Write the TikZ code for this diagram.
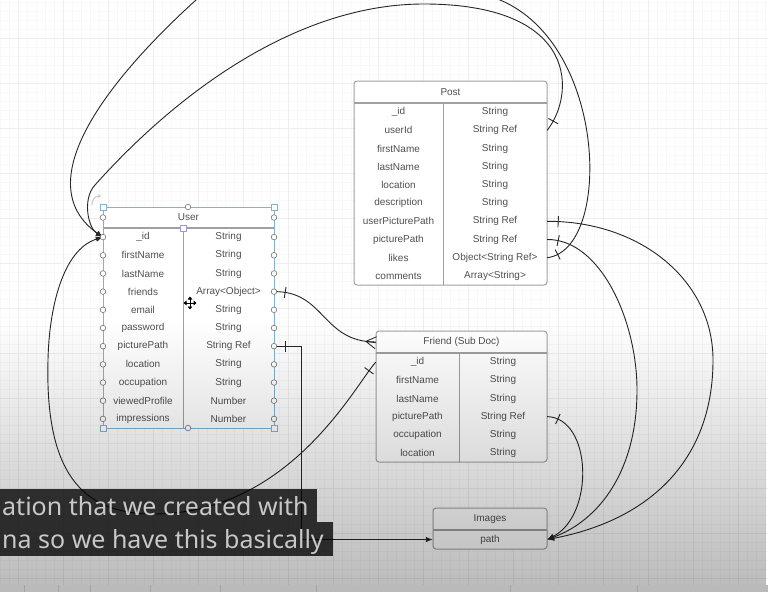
\documentclass[tikz,border=0pt]{standalone}
\usepackage{fontspec}
\setmainfont{Liberation Sans}
\newfontfamily\capfont{Noto Sans}
\usetikzlibrary{arrows.meta,decorations.markings,fadings}

\definecolor{gridminor}{RGB}{248,248,248}
\definecolor{gridmajor}{RGB}{238,238,238}
\definecolor{tblline}{RGB}{160,160,160}
\definecolor{tbltext}{RGB}{80,80,80}
\definecolor{selblue}{RGB}{130,178,205}
\definecolor{handlegray}{RGB}{115,115,115}
\definecolor{anchorlilac}{RGB}{165,150,210}
\definecolor{captext}{RGB}{200,200,200}

\tikzfading[name=fadedown, top color=transparent!100, bottom color=transparent!0]

\tikzset{
  fieldtxt/.style={font=\fontsize{10}{12}\selectfont, text=tbltext, inner sep=0pt},
  rowbox/.style={inner sep=0pt, minimum height=18pt},
  tblbox/.style={draw=tblline, line width=1pt, fill=white, rounded corners=3pt},
  relline/.style={draw=black!85, line width=0.9pt},
  onebar/.style={postaction={decorate, decoration={markings,
      mark=at position 11pt with {\draw[-, black!85, line width=0.9pt] (0pt,-5.5pt) -- (0pt,5.5pt);}}}},
  crowfoot/.style={postaction={decorate, decoration={markings,
      mark=at position -10pt with {\draw[-, black!85, line width=0.8pt] (0pt,0pt) -- (10pt,6pt) (0pt,0pt) -- (10pt,0pt) (0pt,0pt) -- (10pt,-6pt);}}}},
  hdl/.style={draw=handlegray, fill=white, line width=0.6pt},
  captxt/.style={font=\capfont\fontsize{25}{30}\selectfont, text=captext, inner sep=0pt, anchor=base west}
}

\begin{document}
\begin{tikzpicture}[x=1pt, y=-1pt, >={Latex[length=7pt,width=5.5pt]}]
\useasboundingbox (0,0) rectangle (768,592);
\clip (0,0) rectangle (768,592);

% 背景网格
\fill[white] (0,0) rectangle (768,592);
\foreach \x in {0,9,...,765} \draw[gridminor, line width=0.5pt] (\x,0) -- (\x,592);
\foreach \y in {2,11,...,590} \draw[gridminor, line width=0.5pt] (0,\y) -- (768,\y);
\foreach \x in {18,63,...,738} \draw[gridmajor, line width=0.6pt] (\x,0) -- (\x,592);
\foreach \y in {38,83,...,578} \draw[gridmajor, line width=0.6pt] (0,\y) -- (768,\y);

% Post
\draw[tblbox] (354,81) rectangle (547,285);
\draw[tblline, line width=1.6pt] (354,103) -- (547,103);
\draw[tblline, line width=1pt] (443,103) -- (443,285);
\node[fieldtxt, rowbox, minimum width=193pt, minimum height=22pt] (post-head) at (450.5,92) {Post};
\foreach \f/\t [count=\i] in {\_id/String, userId/String Ref, firstName/String, lastName/String, location/String, description/String, userPicturePath/String Ref, picturePath/String Ref, likes/Object<String Ref>, comments/Array<String>} {
  \node[rowbox, minimum width=193pt] (post-\i) at (450.5, {103+18.2*\i-9.1}) {};
  \node[fieldtxt] (post-f\i) at (398.5, {103+18.2*\i-9.1}) {\f};
  \node[fieldtxt] (post-t\i) at (495, {103+18.2*\i-9.1}) {\t};
}

% Friend (Sub Doc)
\draw[tblbox] (376,331) rectangle (547,462);
\draw[tblline, line width=1.6pt] (376,353) -- (547,353);
\draw[tblline, line width=1pt] (459,353) -- (459,462);
\node[fieldtxt, rowbox, minimum width=171pt, minimum height=22pt] (friend-head) at (461.5,342) {Friend (Sub Doc)};
\foreach \f/\t [count=\i] in {\_id/String, firstName/String, lastName/String, picturePath/String Ref, occupation/String, location/String} {
  \node[rowbox, minimum width=171pt] (friend-\i) at (461.5, {353+18.17*\i-9.08}) {};
  \node[fieldtxt] (friend-f\i) at (417.5, {353+18.17*\i-9.08}) {\f};
  \node[fieldtxt] (friend-t\i) at (503, {353+18.17*\i-9.08}) {\t};
}

% Images
\draw[tblbox] (433,508) rectangle (547,549);
\draw[tblline, line width=1.6pt] (433,530) -- (547,530);
\node[fieldtxt, rowbox, minimum width=114pt, minimum height=22pt] (images-head) at (490,519) {Images};
\node[fieldtxt, rowbox, minimum width=114pt] (images-1) at (490,539.5) {path};

% User
\fill[white] (103,207) rectangle (274,428);
\draw[tblline, line width=1.4pt] (103,228) -- (274,228);
\draw[tblline, line width=1pt] (183,228) -- (183,428);
\draw[selblue, line width=1pt] (103,207) rectangle (274,428);
\node[fieldtxt, rowbox, minimum width=171pt, minimum height=21pt] (user-head) at (188.5,217.5) {User};
\foreach \f/\t [count=\i] in {\_id/String, firstName/String, lastName/String, friends/Array<Object>, email/String, password/String, picturePath/String Ref, location/String, occupation/String, viewedProfile/Number, impressions/Number} {
  \node[rowbox, minimum width=171pt] (user-\i) at (188.5, {228+18.18*\i-9.09}) {};
  \node[fieldtxt] (user-f\i) at (143, {228+18.18*\i-9.09}) {\f};
  \node[fieldtxt] (user-t\i) at (228.5, {228+18.18*\i-9.09}) {\t};
}

% 关系连线
\draw[relline, onebar, crowfoot] (user-4.east) .. controls (325,291) and (322,342) .. (friend-head.west);
\draw[relline, onebar, ->] (user-7.east) -- ++(27,0) |- (images-1.west);
\draw[relline, onebar, ->] (post-2.east) .. controls (575,95) and (580,5) .. (426,4)
  .. controls (300,3) and (180,90) .. (95,185) .. controls (82,199) and (88,228) .. (user-1.west);
\draw[relline, onebar, ->] (post-9.east) .. controls (612,250) and (608,45) .. (500,0)
  .. controls (420,-34) and (240,-40) .. (196,0) .. controls (143,48) and (15,175) .. (user-1.west);
\draw[relline, onebar, ->] (friend-1.west) .. controls (355,385) and (290,514) .. (153,514)
  .. controls (80,514) and (45,470) .. (48,360) .. controls (49,310) and (62,250) .. (user-1.west);
\draw[relline, onebar, ->] (post-7.east) .. controls (640,221) and (713,280) .. (713,360)
  .. controls (713,460) and (650,520) .. (images-1.east);
\draw[relline, onebar, ->] (post-8.east) .. controls (600,239) and (637,320) .. (637,390)
  .. controls (637,470) and (600,520) .. (images-1.east);
\draw[relline, onebar, ->] (friend-4.east) .. controls (592,418) and (595,515) .. (images-1.east);

% 选中手柄
\draw[hdl] (103,217.5) circle (2.8pt) (274,217.5) circle (2.8pt);
\foreach \i in {1,...,11}
  \draw[hdl] (103,{228+18.18*\i-9.09}) circle (2.8pt) (274,{228+18.18*\i-9.09}) circle (2.8pt);
\draw[hdl] (188,207) circle (2.8pt) (188,428) circle (2.8pt);
\foreach \x/\y in {103/207, 274/207, 103/428, 274/428}
  \draw[selblue, fill=white, line width=0.8pt] (\x-3,\y-3) rectangle ++(6,6);
\draw[anchorlilac, fill=white, line width=0.8pt] (180,225) rectangle ++(6,6);
\draw[black!22, line width=1pt, -{Stealth[length=3pt,width=4pt]}] (92,205) .. controls (92,199) and (95,196) .. (101,196);
\draw[line width=0.9pt, {Triangle[length=3pt,width=4.5pt]}-{Triangle[length=3pt,width=4.5pt]}] (183.5,303) -- (196.5,303);
\draw[line width=0.9pt, {Triangle[length=3pt,width=4.5pt]}-{Triangle[length=3pt,width=4.5pt]}] (190,296.5) -- (190,309.5);

% 视频遮罩
\fill[black, opacity=0.27, path fading=fadedown] (0,320) rectangle (768,592);
\fill[black!27] (0,585) rectangle (768,592);
\foreach \x in {24,58,90,150,220,316,510,637}
  \draw[black!36, line width=0.8pt] (\x,585) -- (\x,592);

% 字幕
\fill[black, fill opacity=0.78] (0,489) rectangle (317,522);
\fill[black, fill opacity=0.78] (0,522) rectangle (333,556);
\node[captxt] (cap-1) at (2,515) {ation that we created with};
\node[captxt] (cap-2) at (2,548) {na so we have this basically};
\end{tikzpicture}
\end{document}
